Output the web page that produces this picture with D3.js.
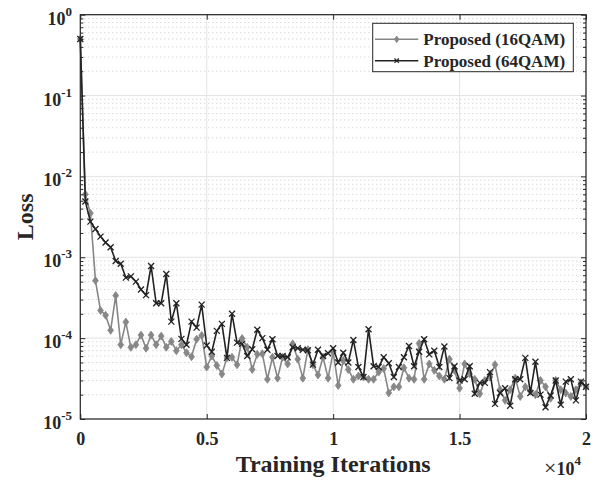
<!DOCTYPE html>
<html>
<head>
<meta charset="utf-8">
<script src="https://cdn.jsdelivr.net/npm/d3@7"></script>
<style>
  html, body { margin: 0; padding: 0; background: #fff; }
  svg { display: block; }
  text { font-family: "Liberation Serif", "Times New Roman", serif; font-weight: bold; fill: #262626; }
</style>
</head>
<body>
<svg id="chart" width="596" height="481"></svg>
<script>
// Loss logged every 200 training iterations, 0 .. 20000
const logStep = 200;

const loss16QAM = [
  0.5, 6.0e-3, 3.5e-3, 5.15e-4, 2.2e-4, 1.92e-4, 1.25e-4, 3.36e-4, 8.3e-5, 1.58e-4,
  7.7e-5, 8.3e-5, 1.09e-4, 7.5e-5, 1.09e-4, 8.3e-5, 1.06e-4, 7.7e-5, 9.1e-5, 7.0e-5,
  8.3e-5, 6.6e-5, 5.9e-5, 9.7e-5, 1.08e-4, 4.4e-5, 6.0e-5, 4.6e-5, 3.6e-5, 5.7e-5,
  5.8e-5, 4.7e-5, 9.9e-5, 7.7e-5, 4.1e-5, 6.3e-5, 6.4e-5, 3.1e-5, 5.8e-5, 3.2e-5,
  5.8e-5, 4.8e-5, 8.5e-5, 5.5e-5, 3.2e-5, 7.2e-5, 4.7e-5, 3.5e-5, 5.8e-5, 3.2e-5,
  6.7e-5, 2.6e-5, 5.3e-5, 4.1e-5, 3.1e-5, 3.4e-5, 3.3e-5, 3.1e-5, 3.1e-5, 3.8e-5,
  4.2e-5, 2.1e-5, 2.5e-5, 2.5e-5, 4.3e-5, 3.2e-5, 3.1e-5, 8.6e-5, 3.1e-5, 4.8e-5,
  4.0e-5, 3.4e-5, 3.1e-5, 5.5e-5, 4.0e-5, 2.4e-5, 4.8e-5, 3.6e-5, 3.1e-5, 2.05e-5,
  3.0e-5, 3.3e-5, 4.7e-5, 2.3e-5, 1.7e-5, 2.3e-5, 3.2e-5, 1.9e-5, 2.5e-5, 2.2e-5,
  2.0e-5, 3.0e-5, 2.5e-5, 1.8e-5, 3.0e-5, 2.3e-5, 2.1e-5, 1.9e-5, 2.3e-5, 2.8e-5,
  2.5e-5
];

const loss64QAM = [
  0.5, 4.9e-3, 2.76e-3, 2.24e-3, 1.8e-3, 1.52e-3, 1.33e-3, 9.0e-4, 8.3e-4, 5.6e-4,
  5.8e-4, 5.0e-4, 4.0e-4, 3.4e-4, 7.8e-4, 2.7e-4, 2.7e-4, 6.2e-4, 1.6e-4, 2.7e-4,
  9.8e-5, 8.3e-5, 1.6e-4, 1.35e-4, 2.6e-4, 8.1e-5, 6.8e-5, 1.23e-4, 1.5e-4, 5.7e-5,
  2.0e-4, 8.8e-5, 8.5e-5, 6.0e-5, 7.3e-5, 1.27e-4, 1.0e-4, 7.2e-5, 9.7e-5, 6.0e-5,
  6.0e-5, 5.8e-5, 7.7e-5, 7.5e-5, 7.2e-5, 7.1e-5, 4.7e-5, 7.2e-5, 6.0e-5, 6.5e-5,
  7.5e-5, 5.0e-5, 6.6e-5, 5.0e-5, 9.5e-5, 4.4e-5, 3.3e-5, 1.29e-4, 4.5e-5, 4.4e-5,
  5.8e-5, 4.9e-5, 3.3e-5, 4.4e-5, 5.8e-5, 8.0e-5, 4.5e-5, 6.8e-5, 9.7e-5, 6.3e-5,
  7.0e-5, 4.4e-5, 7.9e-5, 3.2e-5, 4.5e-5, 3.0e-5, 3.1e-5, 4.5e-5, 2.05e-5, 2.8e-5,
  2.8e-5, 3.8e-5, 1.54e-5, 2.1e-5, 2.4e-5, 1.46e-5, 3.1e-5, 3.1e-5, 5.7e-5, 2.1e-5,
  5.1e-5, 2.0e-5, 1.4e-5, 1.95e-5, 3.0e-5, 1.5e-5, 2.9e-5, 3.1e-5, 1.7e-5, 2.9e-5,
  2.5e-5
];

const seriesNames = ["Proposed (16QAM)", "Proposed (64QAM)"];
const xTickValues = [0, 5000, 10000, 15000, 20000];
const xTickLabels = ["0", "0.5", "1", "1.5", "2"];
const yDecadeExponents = [0, -1, -2, -3, -4, -5];

const iterations = loss16QAM.map((_, i) => i * logStep);

const svg = d3.select("#chart");
const plot = { left: 80.3, right: 586, top: 14.7, bottom: 419 };

const x = d3.scaleLinear().domain([0, 20000]).range([plot.left, plot.right]);
const y = d3.scaleLog().domain([1e-5, 1]).range([plot.bottom, plot.top]);

const majorY = yDecadeExponents.map(e => Math.pow(10, e));
const minorY = [];
for (let e = -5; e < 0; e++) for (let m = 2; m <= 9; m++) minorY.push(m * Math.pow(10, e));

// grid: dotted minor (y), solid major
const grid = svg.append("g");
grid.selectAll("line.minor").data(minorY).join("line")
  .attr("x1", plot.left).attr("x2", plot.right)
  .attr("y1", d => y(d)).attr("y2", d => y(d))
  .attr("stroke", "#c8c8c8").attr("stroke-width", 1)
  .attr("stroke-dasharray", "1,3");
grid.selectAll("line.majy").data(majorY).join("line")
  .attr("x1", plot.left).attr("x2", plot.right)
  .attr("y1", d => y(d)).attr("y2", d => y(d))
  .attr("stroke", "#e3e3e3").attr("stroke-width", 1);
grid.selectAll("line.majx").data(xTickValues).join("line")
  .attr("x1", d => x(d)).attr("x2", d => x(d))
  .attr("y1", plot.top).attr("y2", plot.bottom)
  .attr("stroke", "#e3e3e3").attr("stroke-width", 1);

// series
const line = d3.line().x(d => x(d[0])).y(d => y(d[1]));
const data16 = iterations.map((t, i) => [t, loss16QAM[i]]);
const data64 = iterations.map((t, i) => [t, loss64QAM[i]]);

const c16 = "#878787", c64 = "#222222";

function diamond(g, cx, cy, r, color) {
  g.append("path")
    .attr("d", `M${cx},${cy - r * 1.25}L${cx + r * 0.9},${cy}L${cx},${cy + r * 1.25}L${cx - r * 0.9},${cy}Z`)
    .attr("fill", color).attr("stroke", color).attr("stroke-width", 0.8);
}
function cross(g, cx, cy, r, color, w) {
  g.append("path")
    .attr("d", `M${cx - r},${cy - r}L${cx + r},${cy + r}M${cx - r},${cy + r}L${cx + r},${cy - r}`)
    .attr("stroke", color).attr("stroke-width", w).attr("fill", "none");
}

const g16 = svg.append("g");
g16.append("path").datum(data16).attr("d", line)
  .attr("fill", "none").attr("stroke", c16).attr("stroke-width", 1.6);
data16.forEach(d => diamond(g16, x(d[0]), y(d[1]), 3.2, c16));

const g64 = svg.append("g");
g64.append("path").datum(data64).attr("d", line)
  .attr("fill", "none").attr("stroke", c64).attr("stroke-width", 1.6);
data64.forEach(d => cross(g64, x(d[0]), y(d[1]), 3, c64, 1.3));

// axes
const axisColor = "#262626";
const ax = svg.append("g");

const bottomAxis = d3.axisBottom(x).tickValues(xTickValues)
  .tickSizeInner(-5).tickSizeOuter(0)
  .tickFormat((d, i) => xTickLabels[i]);
const gB = ax.append("g").attr("transform", `translate(0,${plot.bottom})`).call(bottomAxis);
gB.select(".domain").remove();
gB.selectAll("text").attr("y", 26).attr("dy", 0)
  .attr("font-size", 18).attr("fill", axisColor)
  .style("font-family", "'Liberation Serif', serif").style("font-weight", "bold");

const topAxis = d3.axisTop(x).tickValues(xTickValues).tickSizeInner(-5).tickSizeOuter(0).tickFormat("");
const gT = ax.append("g").attr("transform", `translate(0,${plot.top})`).call(topAxis);
gT.select(".domain").remove();

const leftAxis = d3.axisLeft(y).tickValues(majorY).tickSizeInner(-5).tickSizeOuter(0).tickFormat("");
const gL = ax.append("g").attr("transform", `translate(${plot.left},0)`).call(leftAxis);
gL.select(".domain").remove();
const leftMinor = d3.axisLeft(y).tickValues(minorY).tickSizeInner(-3).tickSizeOuter(0).tickFormat("");
const gLm = ax.append("g").attr("transform", `translate(${plot.left},0)`).call(leftMinor);
gLm.select(".domain").remove();

const rightAxis = d3.axisRight(y).tickValues(majorY).tickSizeInner(-5).tickSizeOuter(0).tickFormat("");
const gR = ax.append("g").attr("transform", `translate(${plot.right},0)`).call(rightAxis);
gR.select(".domain").remove();
const rightMinor = d3.axisRight(y).tickValues(minorY).tickSizeInner(-3).tickSizeOuter(0).tickFormat("");
const gRm = ax.append("g").attr("transform", `translate(${plot.right},0)`).call(rightMinor);
gRm.select(".domain").remove();

ax.selectAll(".tick line").attr("stroke", axisColor).attr("stroke-width", 1);

// frame
svg.append("rect")
  .attr("x", plot.left).attr("y", plot.top)
  .attr("width", plot.right - plot.left).attr("height", plot.bottom - plot.top)
  .attr("fill", "none").attr("stroke", axisColor).attr("stroke-width", 1.2);

// y tick labels: 10^e
const yLabels = svg.append("g");
yDecadeExponents.forEach(e => {
  const t = yLabels.append("text")
    .attr("x", 72).attr("y", y(Math.pow(10, e)) + 10)
    .attr("text-anchor", "end").attr("font-size", 18);
  t.append("tspan").text("10");
  t.append("tspan").attr("dy", -9).attr("font-size", 13).text(String(e));
});

// x exponent
const xe = svg.append("text").attr("x", 581).attr("y", 475).attr("text-anchor", "end").attr("font-size", 18);
xe.append("tspan").attr("font-size", 22).attr("font-weight", "normal").text("\u00d7");
xe.append("tspan").text("10");
xe.append("tspan").attr("dy", -10).attr("font-size", 13).text("4");

// axis titles
svg.append("text").attr("x", (plot.left + plot.right) / 2).attr("y", 472)
  .attr("text-anchor", "middle").attr("font-size", 24).text("Training Iterations");
svg.append("text")
  .attr("transform", `translate(33,${(plot.top + plot.bottom) / 2}) rotate(-90)`)
  .attr("text-anchor", "middle").attr("font-size", 24).text("Loss");

// legend
const lg = svg.append("g");
lg.append("rect").attr("x", 372.7).attr("y", 23.3).attr("width", 200.6).attr("height", 48.4)
  .attr("fill", "#fff").attr("stroke", axisColor).attr("stroke-width", 1);
const legendRows = [
  { name: seriesNames[0], color: c16, kind: "diamond", cy: 39.3 },
  { name: seriesNames[1], color: c64, kind: "cross", cy: 60.7 }
];
legendRows.forEach(r => {
  lg.append("line").attr("x1", 375).attr("x2", 418.3).attr("y1", r.cy).attr("y2", r.cy)
    .attr("stroke", r.color).attr("stroke-width", 1.6);
  if (r.kind === "diamond") diamond(lg, 396.7, r.cy, 2.6, r.color);
  else cross(lg, 396.7, r.cy, 2.2, r.color, 1.2);
  lg.append("text").attr("x", 423.3).attr("y", r.cy + 6).attr("font-size", 17).text(r.name);
});
</script>
</body>
</html>
